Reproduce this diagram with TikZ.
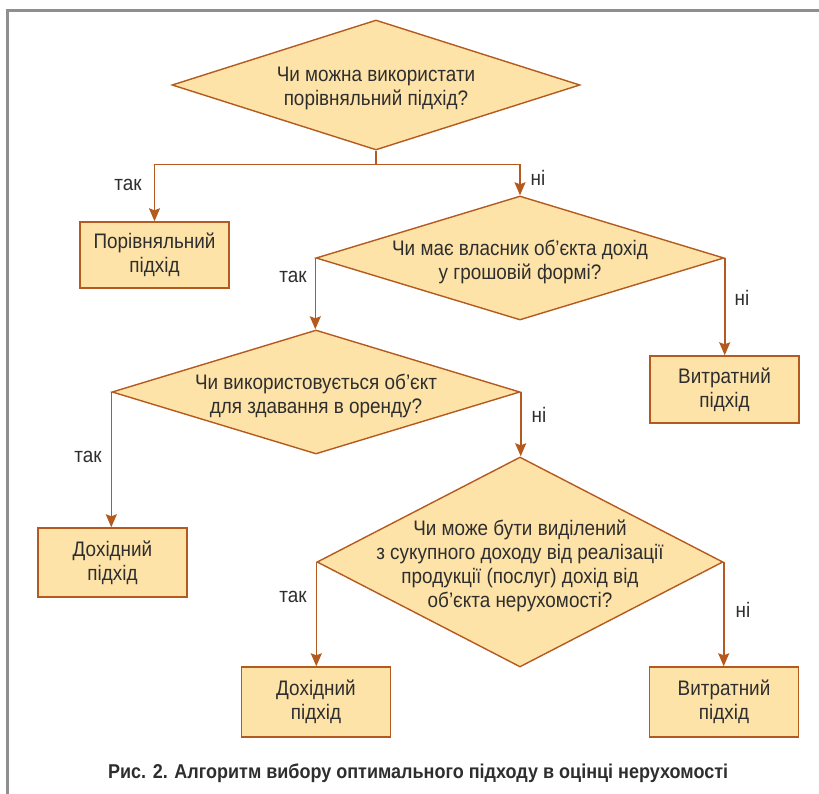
\documentclass[tikz,border=0pt]{standalone}
\usepackage{fontspec}
\setmainfont[FakeStretch=0.9]{Liberation Sans}
\usetikzlibrary{shapes.geometric,arrows.meta}
\definecolor{fillc}{HTML}{FDE3A8}
\definecolor{linec}{HTML}{B45A1E}
\definecolor{txtc}{HTML}{2E2E2E}
\definecolor{framec}{HTML}{8F8F8F}
\begin{document}
\begin{tikzpicture}[x=1pt,y=-1pt,
 dia/.style={diamond, draw=linec, fill=fillc, line width=1.4pt, inner sep=0pt},
 box/.style={rectangle, draw=linec, fill=fillc, line width=1.4pt, minimum width=149pt, minimum height=68pt, align=center, font=\fontsize{21}{24}\selectfont, text=txtc, inner sep=0pt},
 txt/.style={align=center, font=\fontsize{21}{24}\selectfont, text=txtc, inner sep=0pt},
 lbl/.style={font=\fontsize{21}{24}\selectfont, text=txtc, inner sep=0pt},
 conn/.style={draw=linec, line width=1.6pt, -{Stealth[length=13pt,width=11pt,inset=2pt]}},
 plain/.style={draw=linec, line width=1.6pt},
]
\useasboundingbox (0,0) rectangle (819,794);
\draw[framec, line width=3pt] (7.5,800) -- (7.5,10.5) -- (830,10.5);

% diamonds
\node[dia, minimum width=408pt, minimum height=130pt] (d1) at (376,85) {};
\node[txt] (t1) at (376,88) {Чи можна використати\\порівняльний підхід?};
\node[dia, minimum width=408pt, minimum height=124pt] (d2) at (520,258) {};
\node[txt] (t2) at (520,262) {Чи має власник об’єкта дохід\\у грошовій формі?};
\node[dia, minimum width=408pt, minimum height=124pt] (d3) at (316,392) {};
\node[txt] (t3) at (316,396) {Чи використовується об’єкт\\для здавання в оренду?};
\node[dia, minimum width=406pt, minimum height=210pt] (d4) at (520,562) {};
\node[txt] (t4) at (520,566) {Чи може бути виділений\\з сукупного доходу від реалізації\\продукції (послуг) дохід від\\об’єкта нерухомості?};

% boxes
\node[box, minimum height=66pt] (b1) at (154.5,255) {Порівняльний\\підхід};
\node[box, minimum height=67pt] (b2) at (724.5,389.5) {Витратний\\підхід};
\node[box, minimum height=69pt] (b3) at (112.5,562.5) {Дохідний\\підхід};
\node[box, minimum height=70pt] (b4) at (316,702) {Дохідний\\підхід};
\node[box, minimum height=70pt] (b5) at (724,702) {Витратний\\підхід};

% connectors
\draw[plain] (d1.south) -- ++(0,14) coordinate (j1);
\draw[conn] (j1) -| (b1.north);
\draw[conn] (j1) -| (d2.north);
\draw[conn] (d2.west) -- (d2.west |- d3.north);
\draw[conn] (d2.east) -- (d2.east |- b2.north);
\draw[conn] (d3.west) -- (d3.west |- b3.north);
\draw[conn] (d3.east) -- (d3.east |- d4.north);
\draw[conn] (d4.west) -- (d4.west |- b4.north);
\draw[conn] (d4.east) -- (d4.east |- b5.north);

% labels
\node[lbl] (l1) at (128,185) {так};
\node[lbl] (l2) at (538,178) {ні};
\node[lbl] (l3) at (293,277) {так};
\node[lbl] (l4) at (742,298) {ні};
\node[lbl] (l5) at (88,457) {так};
\node[lbl] (l6) at (539,415) {ні};
\node[lbl] (l7) at (293,597) {так};
\node[lbl] (l8) at (743,610) {ні};

% caption
\node[font=\bfseries\fontsize{20}{22}\selectfont, text=txtc, inner sep=0pt] (cap) at (418,773) {Рис. 2. Алгоритм вибору оптимального підходу в оцінці нерухомості};
\end{tikzpicture}
\end{document}
